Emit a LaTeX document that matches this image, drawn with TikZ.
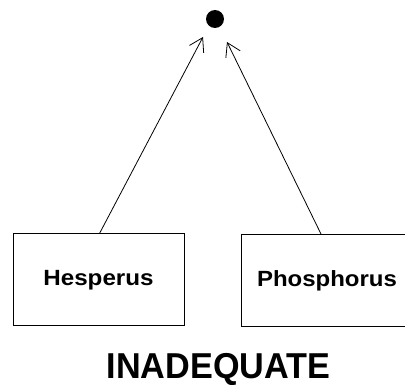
\documentclass[tikz,border=0pt]{standalone}
\usepackage{fontspec}
\setmainfont{Liberation Sans}
\usepackage{graphicx}
\usetikzlibrary{arrows.meta}
\begin{document}
\begin{tikzpicture}[x=1pt,y=-1pt,
  box/.style={draw,line width=1pt,minimum width=171pt,minimum height=92pt,inner sep=0pt},
  conn/.style={line width=0.8pt,-{Straight Barb[length=13pt,width=16pt,line width=0.8pt]}},
  lbl/.style={font=\bfseries\fontsize{22}{24}\selectfont}]
\useasboundingbox (0,0) rectangle (405,385);
\clip (0,0) rectangle (405,385);
\fill[white] (0,0) rectangle (405,385);
\node[circle,fill=black,minimum size=18pt,inner sep=0pt] (dot) at (215,19) {};
\node[box,lbl] (h) at (98.5,280) {\scalebox{1.1}[1]{Hesperus}};
\node[box,lbl] (p) at (327,280.5) {\scalebox{1.09}[1]{Phosphorus}};
\coordinate (ht) at (203,37);
\coordinate (pt) at (227,42);
\draw[conn] (h.north west) ++(87,0) coordinate (hs) (hs) -- (ht);
\draw[conn] (p.north west) ++(80,0) coordinate (ps) (ps) -- (pt);
\node[font=\bfseries\fontsize{36}{40}\selectfont,inner sep=0pt,anchor=base] (t) at (218.5,378.5) {\scalebox{0.95}[1]{INADEQUATE}};
\end{tikzpicture}
\end{document}
